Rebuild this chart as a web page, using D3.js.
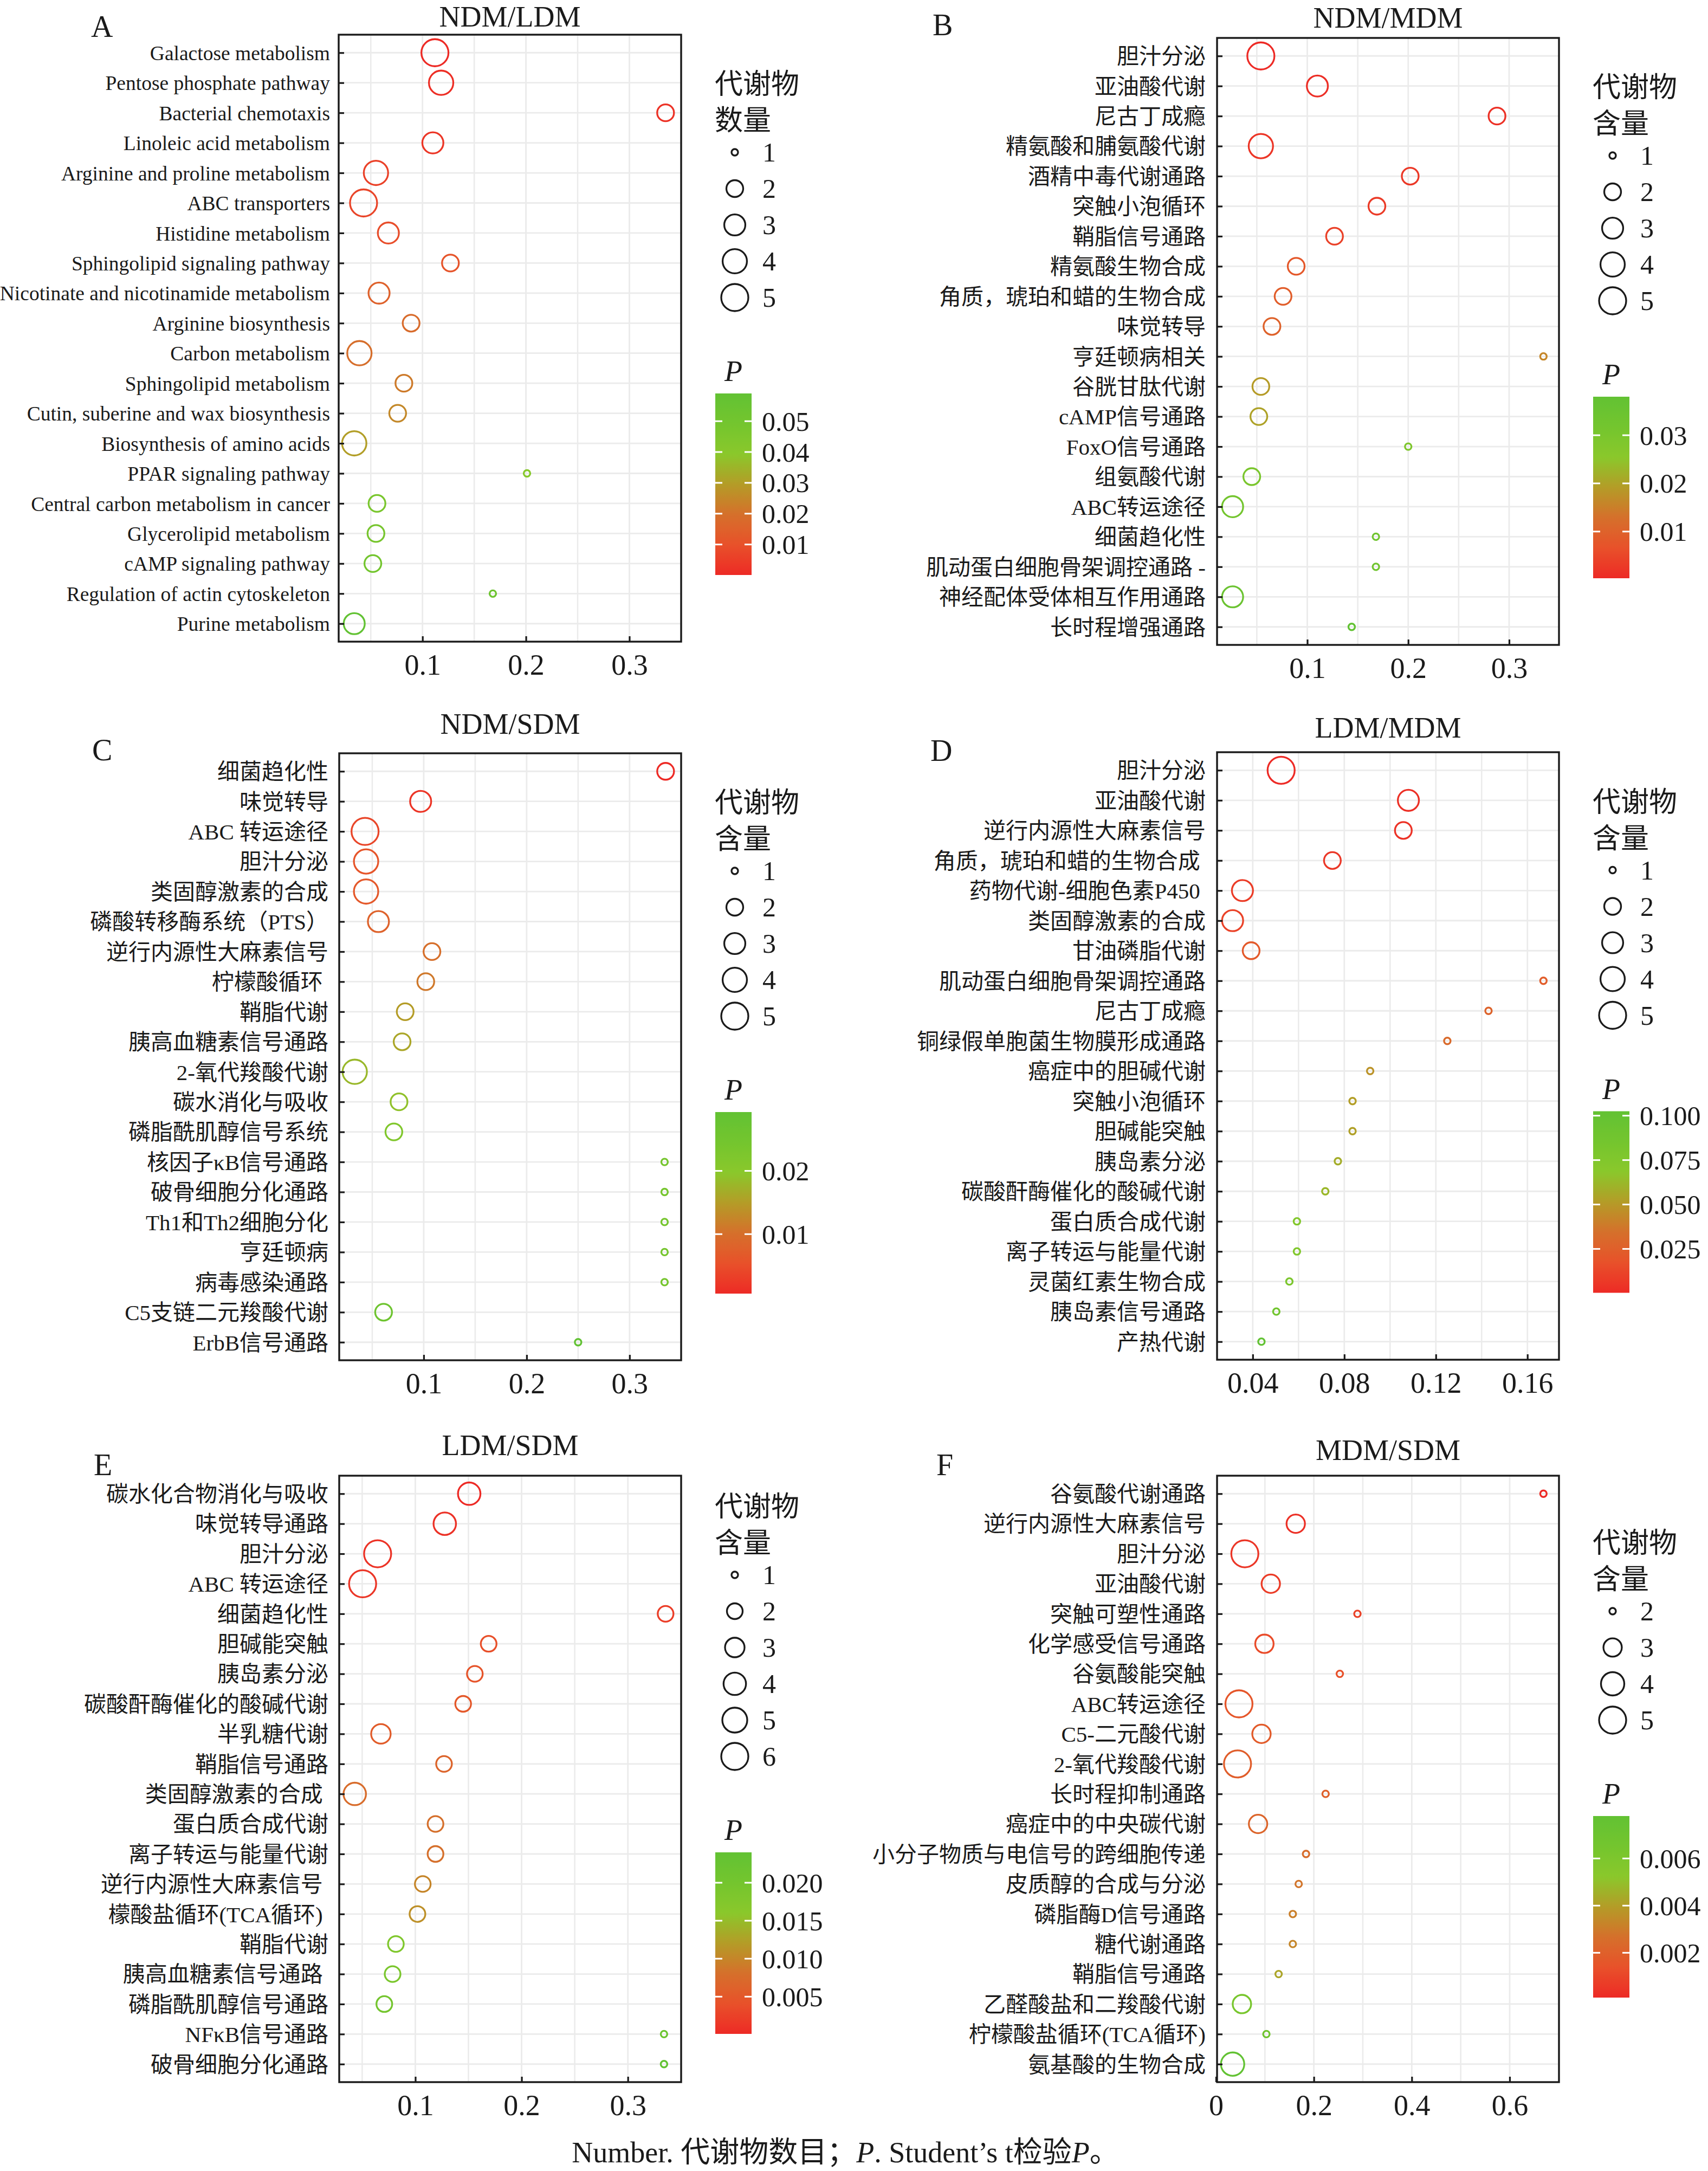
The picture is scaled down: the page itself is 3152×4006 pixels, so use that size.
<!DOCTYPE html>
<html>
<head>
<meta charset="utf-8">
<script src="https://cdn.jsdelivr.net/npm/d3@7"></script>
<style>
  html, body { margin: 0; padding: 0; background: #ffffff; }
  svg text { white-space: pre; }
</style>
</head>
<body>
<svg id="chart"></svg>
<script>
// ---------------- DATA ----------------
// Panel A: NDM/LDM
const aTitle = "NDM/LDM";
const aPathways = ["Galactose metabolism","Pentose phosphate pathway","Bacterial chemotaxis","Linoleic acid metabolism","Arginine and proline metabolism","ABC transporters","Histidine metabolism","Sphingolipid signaling pathway","Nicotinate and nicotinamide metabolism","Arginine biosynthesis","Carbon metabolism","Sphingolipid metabolism","Cutin, suberine and wax biosynthesis","Biosynthesis of amino acids","PPAR signaling pathway","Central carbon metabolism in cancer","Glycerolipid metabolism","cAMP signaling pathway","Regulation of actin cytoskeleton","Purine metabolism"];
const aRatio  = [0.112,0.118,0.335,0.110,0.055,0.043,0.067,0.127,0.058,0.089,0.039,0.082,0.076,0.034,0.201,0.056,0.055,0.052,0.168,0.034];
const aNumber = [5,4,2,3,4,5,3,2,3,2,4,2,2,4,1,2,2,2,1,3];
const aP      = [0.0001,0.001,0.002,0.003,0.006,0.007,0.009,0.011,0.015,0.018,0.019,0.022,0.025,0.030,0.041,0.047,0.048,0.050,0.053,0.059];
const aXTicks = [0.1,0.2,0.3];
const aPTicks = [0.01,0.02,0.03,0.04,0.05];
const aSizeLegend = [1,2,3,4,5];
const aSizeTitle = ["代谢物","数量"];

// Panel B: NDM/MDM
const bTitle = "NDM/MDM";
const bPathways = ["胆汁分泌","亚油酸代谢","尼古丁成瘾","精氨酸和脯氨酸代谢","酒精中毒代谢通路","突触小泡循环","鞘脂信号通路","精氨酸生物合成","角质，琥珀和蜡的生物合成","味觉转导","亨廷顿病相关","谷胱甘肽代谢","cAMP信号通路","FoxO信号通路","组氨酸代谢","ABC转运途径","细菌趋化性","肌动蛋白细胞骨架调控通路 -","神经配体受体相互作用通路","长时程增强通路"];
const bRatio  = [0.054,0.110,0.288,0.054,0.202,0.169,0.127,0.089,0.076,0.065,0.334,0.054,0.052,0.200,0.045,0.026,0.168,0.168,0.026,0.144];
const bNumber = [5,3,2,4,2,2,2,2,2,2,1,2,2,1,2,3,1,1,3,1];
const bP      = [0.0003,0.001,0.0015,0.002,0.0025,0.003,0.004,0.008,0.009,0.010,0.016,0.019,0.020,0.029,0.030,0.032,0.033,0.033,0.035,0.038];
const bXTicks = [0.1,0.2,0.3];
const bPTicks = [0.01,0.02,0.03];
const bSizeLegend = [1,2,3,4,5];
const bSizeTitle = ["代谢物","含量"];

// Panel C: NDM/SDM
const cTitle = "NDM/SDM";
const cPathways = ["细菌趋化性","味觉转导","ABC 转运途径","胆汁分泌","类固醇激素的合成","磷酸转移酶系统（PTS）","逆行内源性大麻素信号","柠檬酸循环 ","鞘脂代谢","胰高血糖素信号通路","2-氧代羧酸代谢","碳水消化与吸收","磷脂酰肌醇信号系统","核因子κB信号通路","破骨细胞分化通路","Th1和Th2细胞分化","亨廷顿病","病毒感染通路","C5支链二元羧酸代谢","ErbB信号通路"];
const cRatio  = [0.335,0.097,0.043,0.044,0.044,0.056,0.108,0.102,0.082,0.079,0.033,0.076,0.071,0.334,0.334,0.334,0.334,0.334,0.061,0.250];
const cNumber = [2,3,5,4,4,3,2,2,2,2,4,2,2,1,1,1,1,1,2,1];
const cP      = [0.0006,0.002,0.004,0.006,0.0065,0.008,0.010,0.011,0.015,0.016,0.018,0.019,0.022,0.024,0.024,0.024,0.024,0.024,0.026,0.0293];
const cXTicks = [0.1,0.2,0.3];
const cPTicks = [0.01,0.02];
const cSizeLegend = [1,2,3,4,5];
const cSizeTitle = ["代谢物","含量"];

// Panel D: LDM/MDM
const dTitle = "LDM/MDM";
const dPathways = ["胆汁分泌","亚油酸代谢","逆行内源性大麻素信号","角质，琥珀和蜡的生物合成 ","药物代谢-细胞色素P450 ","类固醇激素的合成","甘油磷脂代谢","肌动蛋白细胞骨架调控通路","尼古丁成瘾","铜绿假单胞菌生物膜形成通路","癌症中的胆碱代谢","突触小泡循环","胆碱能突触","胰岛素分泌","碳酸酐酶催化的酸碱代谢","蛋白质合成代谢","离子转运与能量代谢","灵菌红素生物合成","胰岛素信号通路","产热代谢"];
const dRatio  = [0.0524,0.108,0.1058,0.0748,0.0355,0.0312,0.0393,0.167,0.143,0.125,0.0913,0.0836,0.0836,0.0772,0.0717,0.0593,0.0593,0.056,0.0503,0.0438];
const dNumber = [5,3,2,2,3,3,2,1,1,1,1,1,1,1,1,1,1,1,1,1];
const dP      = [0.0003,0.003,0.004,0.006,0.008,0.011,0.022,0.024,0.027,0.031,0.048,0.052,0.053,0.058,0.062,0.075,0.076,0.080,0.088,0.1025];
const dXTicks = [0.04,0.08,0.12,0.16];
const dPTicks = [0.025,0.05,0.075,0.1];
const dSizeLegend = [1,2,3,4,5];
const dSizeTitle = ["代谢物","含量"];

// Panel E: LDM/SDM
const eTitle = "LDM/SDM";
const ePathways = ["碳水化合物消化与吸收","味觉转导通路","胆汁分泌","ABC 转运途径","细菌趋化性","胆碱能突触","胰岛素分泌","碳酸酐酶催化的酸碱代谢","半乳糖代谢","鞘脂信号通路","类固醇激素的合成 ","蛋白质合成代谢","离子转运与能量代谢","逆行内源性大麻素信号 ","檬酸盐循环(TCA循环) ","鞘脂代谢","胰高血糖素信号通路 ","磷脂酰肌醇信号通路","NFκB信号通路","破骨细胞分化通路"];
const eRatio  = [0.1507,0.1277,0.0645,0.0504,0.3355,0.169,0.156,0.145,0.0676,0.127,0.043,0.119,0.119,0.107,0.102,0.0817,0.0786,0.0708,0.334,0.334];
const eNumber = [4,4,6,6,2,2,2,2,3,2,4,2,2,2,2,2,2,2,1,1];
const eP      = [0.0001,0.0008,0.001,0.0013,0.002,0.004,0.0045,0.005,0.0055,0.0065,0.0075,0.008,0.008,0.010,0.011,0.018,0.019,0.020,0.022,0.024];
const eXTicks = [0.1,0.2,0.3];
const ePTicks = [0.005,0.01,0.015,0.02];
const eSizeLegend = [1,2,3,4,5,6];
const eSizeTitle = ["代谢物","含量"];

// Panel F: MDM/SDM
const fTitle = "MDM/SDM";
const fPathways = ["谷氨酸代谢通路","逆行内源性大麻素信号","胆汁分泌","亚油酸代谢","突触可塑性通路","化学感受信号通路","谷氨酸能突触","ABC转运途径","C5-二元酸代谢","2-氧代羧酸代谢","长时程抑制通路","癌症中的中央碳代谢","小分子物质与电信号的跨细胞传递","皮质醇的合成与分泌","磷脂酶D信号通路","糖代谢通路","鞘脂信号通路","乙醛酸盐和二羧酸代谢","柠檬酸盐循环(TCA循环)","氨基酸的生物合成"];
const fRatio  = [0.669,0.163,0.059,0.112,0.289,0.099,0.253,0.047,0.093,0.044,0.224,0.086,0.184,0.169,0.157,0.157,0.128,0.053,0.103,0.034];
const fNumber = [2,3,5,3,2,3,2,5,3,5,2,3,2,2,2,2,2,3,2,4];
const fP      = [0.0001,0.0003,0.0005,0.0007,0.0009,0.0012,0.0014,0.0016,0.0018,0.0019,0.002,0.0022,0.0025,0.0028,0.0031,0.0033,0.0042,0.0063,0.0068,0.0078];
const fXTicks = [0,0.2,0.4,0.6];
const fPTicks = [0.002,0.004,0.006];
const fSizeLegend = [2,3,4,5];
const fSizeTitle = ["代谢物","含量"];

// colour ramp (red -> olive -> green)
const colorStops = ["#ed2a25","#e8512a","#d5702b","#b49c27","#8ac82b","#74c52e","#62c233"];

// ---------------- LAYOUT ----------------
const W = 3152, H = 4006;
const SERIF = "'Liberation Serif','Times New Roman','Noto Sans CJK SC',serif";
const INK = "#1a1a1a";

const panels = [
  {letter:"A", title:aTitle, pathways:aPathways, ratio:aRatio, number:aNumber, p:aP, xTicks:aXTicks, xFmt:".1f", pTicks:aPTicks, pFmt:".2f", sizeLegend:aSizeLegend, sizeTitle:aSizeTitle,
   x0:625, x1:1257, y0:64, y1:1184, titleY:49, letterX:168, letterY:68, labelSize:37.5, labelPad:16},
  {letter:"B", title:bTitle, pathways:bPathways, ratio:bRatio, number:bNumber, p:bP, xTicks:bXTicks, xFmt:".1f", pTicks:bPTicks, pFmt:".2f", sizeLegend:bSizeLegend, sizeTitle:bSizeTitle,
   x0:2246, x1:2877, y0:70, y1:1190, titleY:51, letterX:1721, letterY:65, labelSize:41, labelPad:21},
  {letter:"C", title:cTitle, pathways:cPathways, ratio:cRatio, number:cNumber, p:cP, xTicks:cXTicks, xFmt:".1f", pTicks:cPTicks, pFmt:".2f", sizeLegend:cSizeLegend, sizeTitle:cSizeTitle,
   x0:626, x1:1257, y0:1390, y1:2510, titleY:1354, letterX:170, letterY:1403, labelSize:41, labelPad:20},
  {letter:"D", title:dTitle, pathways:dPathways, ratio:dRatio, number:dNumber, p:dP, xTicks:dXTicks, xFmt:".2f", pTicks:dPTicks, pFmt:".3f", sizeLegend:dSizeLegend, sizeTitle:dSizeTitle,
   x0:2246, x1:2877, y0:1388, y1:2509, titleY:1361, letterX:1717, letterY:1404, labelSize:41, labelPad:21},
  {letter:"E", title:eTitle, pathways:ePathways, ratio:eRatio, number:eNumber, p:eP, xTicks:eXTicks, xFmt:".1f", pTicks:ePTicks, pFmt:".3f", sizeLegend:eSizeLegend, sizeTitle:eSizeTitle,
   x0:626, x1:1257, y0:2723, y1:3842, titleY:2685, letterX:173, letterY:2722, labelSize:41, labelPad:20},
  {letter:"F", title:fTitle, pathways:fPathways, ratio:fRatio, number:fNumber, p:fP, xTicks:fXTicks, xFmt:"zero", pTicks:fPTicks, pFmt:".3f", sizeLegend:fSizeLegend, sizeTitle:fSizeTitle,
   x0:2246, x1:2877, y0:2723, y1:3842, titleY:2694, letterX:1728, letterY:2722, labelSize:41, labelPad:21}
];

const svg = d3.select("#chart")
  .attr("width", W).attr("height", H)
  .attr("viewBox", `0 0 ${W} ${H}`)
  .style("display","block");
svg.append("rect").attr("width", W).attr("height", H).attr("fill", "#ffffff");
const defs = svg.append("defs");

const ramp = d3.scaleLinear()
  .domain(colorStops.map((c, i) => i / (colorStops.length - 1)))
  .range(colorStops)
  .interpolate(d3.interpolateRgb);

function drawPanel(cfg) {
  const g = svg.append("g").attr("class", "panel-" + cfg.letter);
  const n = cfg.pathways.length;
  const idx = d3.range(n);

  // scales
  const [xmin, xmax] = d3.extent(cfg.ratio);
  const xpad = (xmax - xmin) * 0.05;
  const x = d3.scaleLinear().domain([xmin - xpad, xmax + xpad]).range([cfg.x0, cfg.x1]);
  const y = d3.scalePoint().domain(idx).range([cfg.y0, cfg.y1]).padding(0.6);

  const pDom = d3.extent(cfg.p);
  const pT = d3.scaleLinear().domain(pDom).range([0, 1]);
  const color = p => ramp(pT(p));

  const sizeT = d3.scaleLinear().domain(d3.extent(cfg.sizeLegend)).range([0, 1]);
  const rad = d3.scaleLinear().domain([0, 1]).range([6, 25]);
  const radius = v => rad(Math.sqrt(Math.max(0, sizeT(v))));

  // grid
  const dom = x.domain();
  const step = cfg.xTicks[1] - cfg.xTicks[0];
  const minor = [cfg.xTicks[0] - step / 2].concat(cfg.xTicks.map(t => t + step / 2))
    .filter(v => v > dom[0] && v < dom[1]);
  const grid = g.append("g");
  grid.selectAll("line.hg").data(idx).join("line")
    .attr("x1", cfg.x0).attr("x2", cfg.x1)
    .attr("y1", d => y(d)).attr("y2", d => y(d))
    .attr("stroke", "#ebebeb").attr("stroke-width", 2.8);
  grid.selectAll("line.vmin").data(minor).join("line")
    .attr("x1", d => x(d)).attr("x2", d => x(d))
    .attr("y1", cfg.y0).attr("y2", cfg.y1)
    .attr("stroke", "#ebebeb").attr("stroke-width", 2.6);
  grid.selectAll("line.vmaj").data(cfg.xTicks.filter(v => v >= dom[0] && v <= dom[1])).join("line")
    .attr("x1", d => x(d)).attr("x2", d => x(d))
    .attr("y1", cfg.y0).attr("y2", cfg.y1)
    .attr("stroke", "#ebebeb").attr("stroke-width", 2.8);

  // points
  g.append("g").selectAll("circle").data(idx).join("circle")
    .attr("cx", i => x(cfg.ratio[i]))
    .attr("cy", i => y(i))
    .attr("r", i => radius(cfg.number[i]))
    .attr("fill", "none")
    .attr("stroke", i => color(cfg.p[i]))
    .attr("stroke-width", 3.3);

  // frame
  g.append("rect")
    .attr("x", cfg.x0).attr("y", cfg.y0)
    .attr("width", cfg.x1 - cfg.x0).attr("height", cfg.y1 - cfg.y0)
    .attr("fill", "none").attr("stroke", INK).attr("stroke-width", 3.4);

  // y axis (inward ticks)
  const ya = g.append("g").attr("transform", `translate(${cfg.x0},0)`)
    .call(d3.axisLeft(y).tickSize(-10).tickPadding(cfg.labelPad).tickFormat(i => cfg.pathways[i]));
  ya.select(".domain").remove();
  ya.selectAll(".tick line").attr("stroke", INK).attr("stroke-width", 3.2);
  ya.selectAll(".tick text")
    .attr("font-family", SERIF).attr("font-size", cfg.labelSize)
    .attr("fill", INK).attr("dy", "0.35em");

  // x axis (inward ticks)
  const fmt = cfg.xFmt === "zero" ? (d => d === 0 ? "0" : d3.format(".1f")(d)) : d3.format(cfg.xFmt);
  const xa = g.append("g").attr("transform", `translate(0,${cfg.y1})`)
    .call(d3.axisBottom(x).tickValues(cfg.xTicks).tickSize(-10).tickPadding(0).tickFormat(fmt));
  xa.select(".domain").remove();
  xa.selectAll(".tick line").attr("stroke", INK).attr("stroke-width", 3.2);
  xa.selectAll(".tick text")
    .attr("font-family", SERIF).attr("font-size", 54)
    .attr("fill", INK).attr("y", 61).attr("dy", null);

  // title & letter
  g.append("text")
    .attr("x", (cfg.x0 + cfg.x1) / 2).attr("y", cfg.titleY)
    .attr("text-anchor", "middle")
    .attr("font-family", SERIF).attr("font-size", 54).attr("fill", INK)
    .text(cfg.title);
  g.append("text")
    .attr("x", cfg.letterX).attr("y", cfg.letterY)
    .attr("font-family", SERIF).attr("font-size", 56).attr("fill", INK)
    .text(cfg.letter);

  // ---------- legends ----------
  const m = cfg.sizeLegend.length;
  const titleC = (cfg.y0 + cfg.y1) / 2 - 30 - (614 + 67 * (m - 1)) / 2;
  const lg = g.append("g");
  lg.selectAll("text.st").data(cfg.sizeTitle).join("text")
    .attr("x", cfg.x1 + 62).attr("y", (d, i) => titleC + 67 * i + 20)
    .attr("font-family", SERIF).attr("font-size", 52).attr("fill", INK)
    .text(d => d);
  const itemY = i => titleC + 128 + 67 * i;
  lg.selectAll("circle").data(cfg.sizeLegend).join("circle")
    .attr("cx", cfg.x1 + 99).attr("cy", (d, i) => itemY(i))
    .attr("r", d => radius(d))
    .attr("fill", "none").attr("stroke", INK).attr("stroke-width", 3.3);
  lg.selectAll("text.sn").data(cfg.sizeLegend).join("text")
    .attr("x", cfg.x1 + 150).attr("y", (d, i) => itemY(i) + 17)
    .attr("font-family", SERIF).attr("font-size", 50).attr("fill", INK)
    .text(d => d);

  const pC = itemY(m - 1) + 136;
  lg.append("text")
    .attr("x", cfg.x1 + 80).attr("y", pC + 18)
    .attr("font-family", SERIF).attr("font-size", 54).attr("font-style", "italic").attr("fill", INK)
    .text("P");

  const barTop = pC + 41, barBot = barTop + 335;
  const bx0 = cfg.x1 + 63, bx1 = cfg.x1 + 130;
  const gid = "grad" + cfg.letter;
  const grad = defs.append("linearGradient").attr("id", gid)
    .attr("x1", 0).attr("y1", 1).attr("x2", 0).attr("y2", 0);
  grad.selectAll("stop").data(d3.range(41)).join("stop")
    .attr("offset", d => d / 40)
    .attr("stop-color", d => color(pDom[0] + (pDom[1] - pDom[0]) * d / 40));
  lg.append("rect")
    .attr("x", bx0).attr("y", barTop).attr("width", bx1 - bx0).attr("height", barBot - barTop)
    .attr("fill", `url(#${gid})`);
  const pY = d3.scaleLinear().domain(pDom).range([barBot, barTop]);
  const ticksIn = cfg.pTicks.filter(v => v >= pDom[0] && v <= pDom[1]);
  lg.selectAll("line.tl").data(ticksIn).join("line")
    .attr("x1", bx0).attr("x2", bx0 + 13).attr("y1", d => pY(d)).attr("y2", d => pY(d))
    .attr("stroke", "#ffffff").attr("stroke-width", 3);
  lg.selectAll("line.tr").data(ticksIn).join("line")
    .attr("x1", bx1 - 13).attr("x2", bx1).attr("y1", d => pY(d)).attr("y2", d => pY(d))
    .attr("stroke", "#ffffff").attr("stroke-width", 3);
  const pa = lg.append("g").attr("transform", `translate(${cfg.x1 + 149},0)`)
    .call(d3.axisRight(pY).tickValues(ticksIn).tickSize(0).tickPadding(0).tickFormat(d3.format(cfg.pFmt)));
  pa.select(".domain").remove();
  pa.selectAll(".tick text")
    .attr("font-family", SERIF).attr("font-size", 50).attr("fill", INK).attr("dy", "0.34em");
}

panels.forEach(drawPanel);

// caption
const cap = svg.append("text")
  .attr("x", 1560).attr("y", 3990)
  .attr("text-anchor", "middle")
  .attr("font-family", SERIF).attr("font-size", 54).attr("fill", INK);
cap.append("tspan").text("Number. 代谢物数目；");
cap.append("tspan").attr("font-style", "italic").text("P");
cap.append("tspan").text(". Student’s t检验");
cap.append("tspan").attr("font-style", "italic").text("P");
cap.append("tspan").text("。");
</script>
</body>
</html>
